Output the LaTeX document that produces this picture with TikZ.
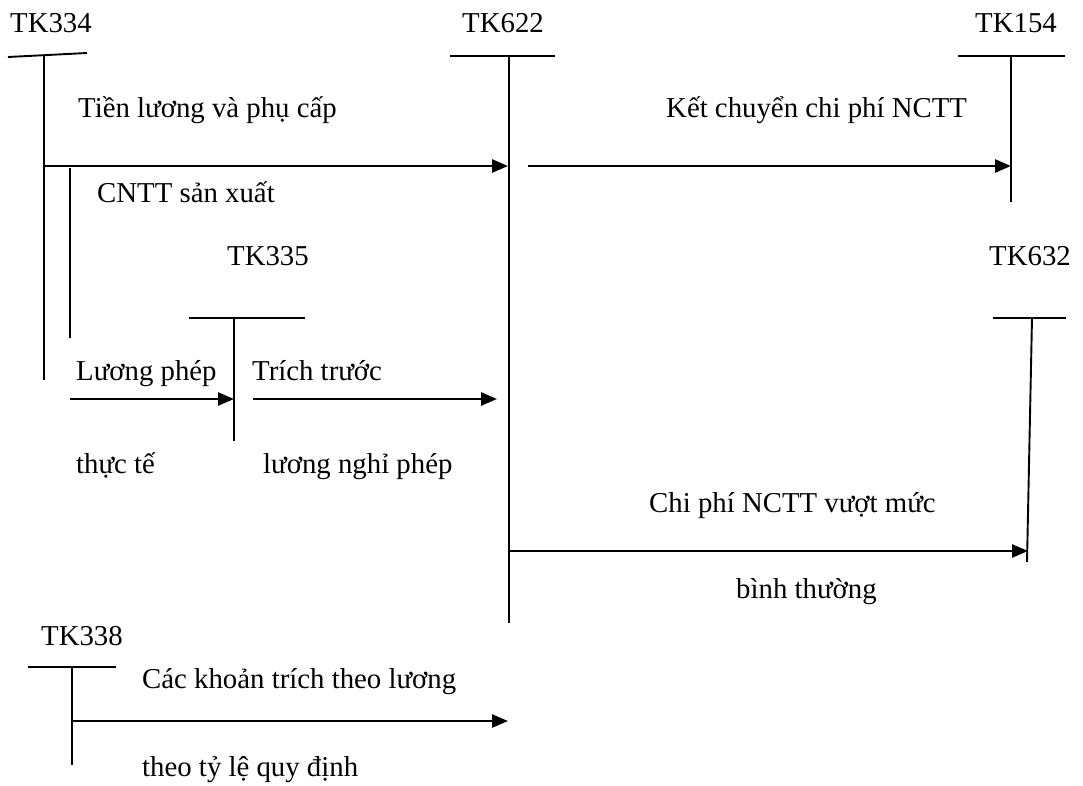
\documentclass[tikz,border=0pt]{standalone}
\usepackage{fontspec}
\setmainfont{Liberation Serif}
\usetikzlibrary{arrows.meta}
\begin{document}
\begin{tikzpicture}[x=1pt,y=-1pt,
  lbl/.style={inner sep=0pt, font=\fontsize{28.8}{32}\selectfont},
  acct/.style={lbl, anchor=base},
  note/.style={lbl, anchor=base west},
  tline/.style={line width=1.9pt},
  flow/.style={line width=2.6pt, -{Triangle[length=16pt,width=13pt]}}]
\useasboundingbox (0,0) rectangle (1083,785);

% account headings
\node[acct] (n334) at (51,32) {TK334};
\node[acct] (n622) at (503,32) {TK622};
\node[acct] (n154) at (1016,32) {TK154};
\node[acct] (n335) at (268,265) {TK335};
\node[acct] (n632) at (1030,265) {TK632};
\node[acct] (n338) at (82,645) {TK338};

% T-accounts: top bars and stems
\coordinate (a334) at (44,56);
\coordinate (a622) at (509,56);
\coordinate (a154) at (1011,56);
\coordinate (a335) at (234,318);
\coordinate (a632) at (1032,318);
\coordinate (a338) at (72,667);

\draw[tline] (8,57) -- (87,53);
\draw[tline] (a334) -- (44,380);
\draw[tline] (70,168) -- (70,338);
\draw[tline] (450,56) -- (555,56);
\draw[tline] (a622) -- (509,623);
\draw[tline] (958,56) -- (1065,56);
\draw[tline] (a154) -- (1011,202);
\draw[tline] (189,318) -- (305,318);
\draw[tline] (a335) -- (234,441);
\draw[tline] (993,318) -- (1066,318);
\draw[tline] (a632) -- (1027,562);
\draw[tline] (28,667) -- (116,667);
\draw[tline] (a338) -- (72,765);

% flow arrows
\coordinate (s1) at (44,166);
\coordinate (e1) at (508,166);
\coordinate (s2) at (528,166);
\coordinate (e2) at (1011,166);
\coordinate (s3) at (70,399);
\coordinate (e3) at (234,399);
\coordinate (s4) at (253,399);
\coordinate (e4) at (497,399);
\coordinate (s5) at (509,551);
\coordinate (e5) at (1028,551);
\coordinate (s6) at (72,721);
\coordinate (e6) at (508,721);
\draw[flow] (s1) -- (e1);
\draw[flow] (s2) -- (e2);
\draw[flow] (s3) -- (e3);
\draw[flow] (s4) -- (e4);
\draw[flow] (s5) -- (e5);
\draw[flow] (s6) -- (e6);

% flow labels
\node[note] (t1) at (78,117) {Tiền lương và phụ cấp};
\node[note] (t2) at (97,202) {CNTT sản xuất};
\node[note] (t3) at (666,117) {Kết chuyển chi phí NCTT};
\node[note] (t4) at (76,380) {Lương phép};
\node[note] (t5) at (252,380) {Trích trước};
\node[note] (t6) at (76,473) {thực tế};
\node[note] (t7) at (263,473) {lương nghỉ phép};
\node[note] (t8) at (649,512) {Chi phí NCTT vượt mức};
\node[note] (t9) at (736,598) {bình thường};
\node[note] (t10) at (142,688) {Các khoản trích theo lương};
\node[note] (t11) at (142,776) {theo tỷ lệ quy định};
\end{tikzpicture}
\end{document}
